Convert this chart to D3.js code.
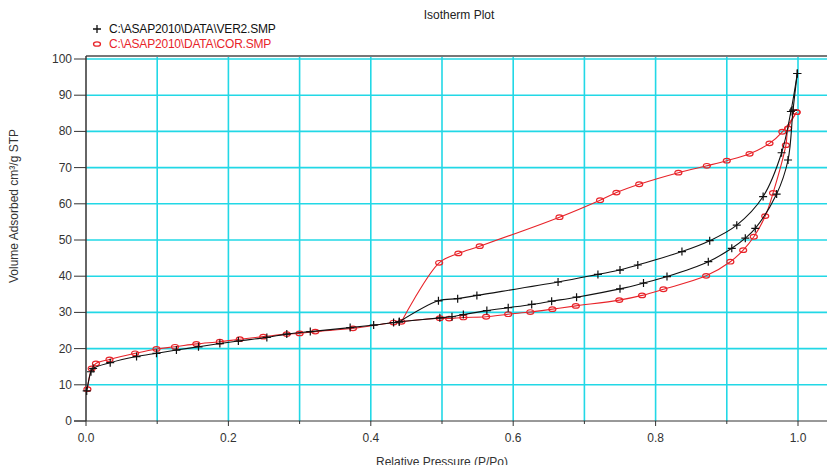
<!DOCTYPE html>
<html>
<head>
<meta charset="utf-8">
<script src="https://cdn.jsdelivr.net/npm/d3@7"></script>
<style>
  body { margin: 0; background: #fff; }
  svg text { font-family: "Liberation Sans", Arial, sans-serif; }
</style>
</head>
<body>
<div class="landing"></div>
<script>
// VER2 sample (black, +)
const ver2AdsP = [0.001, 0.007, 0.010, 0.034, 0.071, 0.099, 0.127, 0.158, 0.188, 0.214, 0.254, 0.282, 0.315, 0.371, 0.404, 0.432, 0.440, 0.497, 0.514, 0.530, 0.563, 0.593, 0.626, 0.654, 0.689, 0.750, 0.783, 0.816, 0.874, 0.907, 0.926, 0.940, 0.970, 0.986, 0.993, 0.999]
const ver2AdsV = [8.3, 13.6, 14.5, 16.1, 17.8, 18.7, 19.6, 20.5, 21.4, 22.1, 23.1, 24.0, 24.7, 25.8, 26.5, 27.2, 27.4, 28.5, 28.8, 29.4, 30.5, 31.3, 32.2, 33.1, 34.2, 36.5, 38.1, 39.9, 44.0, 47.7, 50.5, 53.2, 62.7, 72.1, 85.9, 96.0]
const ver2DesP = [0.999, 0.990, 0.977, 0.951, 0.914, 0.876, 0.837, 0.775, 0.750, 0.719, 0.663, 0.549, 0.522, 0.495, 0.440]
const ver2DesV = [96.0, 85.5, 74.1, 62.0, 54.1, 49.8, 46.8, 43.1, 41.7, 40.5, 38.4, 34.7, 33.8, 33.2, 27.4]

// COR sample (red, o)
const corAdsP = [0.002, 0.008, 0.014, 0.033, 0.069, 0.099, 0.125, 0.155, 0.188, 0.216, 0.249, 0.282, 0.300, 0.322, 0.375, 0.432, 0.497, 0.510, 0.530, 0.562, 0.593, 0.624, 0.655, 0.688, 0.749, 0.781, 0.811, 0.871, 0.905, 0.923, 0.938, 0.954, 0.965, 0.983, 0.986, 0.998]
const corAdsV = [8.8, 14.5, 15.9, 17.0, 18.7, 19.9, 20.5, 21.3, 21.9, 22.6, 23.3, 24.0, 24.2, 24.7, 25.6, 27.2, 28.4, 28.3, 28.6, 28.8, 29.5, 30.1, 30.9, 31.8, 33.4, 34.7, 36.4, 40.1, 44.0, 47.2, 50.9, 56.6, 63.0, 76.2, 80.8, 85.3]
const corDesP = [0.998, 0.978, 0.960, 0.932, 0.900, 0.872, 0.832, 0.777, 0.745, 0.722, 0.665, 0.553, 0.523, 0.496, 0.443]
const corDesV = [85.3, 79.9, 76.7, 73.8, 71.9, 70.5, 68.6, 65.4, 63.1, 61.0, 56.3, 48.3, 46.3, 43.7, 27.4]

const xTicks = [0, 0.2, 0.4, 0.6, 0.8, 1.0]
const yTicks = [0, 10, 20, 30, 40, 50, 60, 70, 80, 90, 100]
const legendNames = ['C:\\ASAP2010\\DATA\\VER2.SMP', 'C:\\ASAP2010\\DATA\\COR.SMP']

document.addEventListener('DOMContentLoaded', start)

function start () {
  const W = 827, H = 465
  const svg = d3.select('.landing').append('svg')
    .attr('width', W).attr('height', H)

  const x = d3.scaleLinear().domain([0, 1]).range([86, 798])
  const y = d3.scaleLinear().domain([0, 100]).range([421, 59])

  // grid
  const grid = svg.append('g').attr('stroke', '#22d8e6').attr('stroke-width', 1.6)
  grid.selectAll('.vg').data(d3.range(1, 12).map(i => i / 10))
    .enter().append('line')
    .attr('x1', d => x(d)).attr('x2', d => x(d))
    .attr('y1', 57).attr('y2', y(0))
  grid.selectAll('.hg').data(yTicks.slice(1))
    .enter().append('line')
    .attr('x1', x(0)).attr('x2', W)
    .attr('y1', d => y(d)).attr('y2', d => y(d))

  // top border
  svg.append('line').attr('x1', x(0)).attr('x2', W).attr('y1', 56).attr('y2', 56)
    .attr('stroke', '#777').attr('stroke-width', 2)

  // axes
  const xAxis = svg.append('g').attr('transform', `translate(0,${y(0)})`)
  xAxis.append('line').attr('x1', x(0) - 12).attr('x2', W).attr('stroke', '#333')
  xAxis.selectAll('.mt').data(d3.range(0, 11).map(i => i / 10))
    .enter().append('line')
    .attr('x1', d => x(d)).attr('x2', d => x(d))
    .attr('y1', 0).attr('y2', (d, i) => i % 2 === 0 ? 5 : 3)
    .attr('stroke', '#333')
  xAxis.selectAll('text').data(xTicks).enter().append('text')
    .attr('x', d => x(d)).attr('y', 21)
    .attr('text-anchor', 'middle').attr('font-size', 12).attr('fill', '#333')
    .text(d => d.toFixed(1))

  const yAxis = svg.append('g')
  yAxis.append('line').attr('x1', x(0)).attr('x2', x(0)).attr('y1', 56).attr('y2', y(0))
    .attr('stroke', '#333').attr('stroke-width', 1.5)
  yAxis.selectAll('.yt').data(yTicks).enter().append('line')
    .attr('x1', x(0) - 12).attr('x2', x(0))
    .attr('y1', d => y(d)).attr('y2', d => y(d))
    .attr('stroke', '#333')
  yAxis.selectAll('text').data(yTicks).enter().append('text')
    .attr('x', x(0) - 14).attr('y', d => y(d) + 4)
    .attr('text-anchor', 'end').attr('font-size', 12).attr('fill', '#333')
    .text(d => d)

  // titles
  svg.append('text').attr('x', 459).attr('y', 19).attr('text-anchor', 'middle')
    .attr('font-size', 12).attr('fill', '#222').text('Isotherm Plot')
  svg.append('text').attr('transform', `translate(18,206) rotate(-90)`)
    .attr('text-anchor', 'middle').attr('font-size', 12).attr('fill', '#333')
    .text('Volume Adsorbed cm³/g STP')
  svg.append('text').attr('x', 442).attr('y', 466).attr('text-anchor', 'middle')
    .attr('font-size', 12).attr('fill', '#333').text('Relative Pressure (P/Po)')

  const line = d3.line().curve(d3.curveCatmullRom.alpha(0.5))
    .x(d => x(d[0])).y(d => y(d[1]))
  const zip = (a, b) => a.map((v, i) => [v, b[i]])

  drawSeries(svg, zip(corAdsP, corAdsV), line, x, y, '#e8242a', 'circle')
  drawSeries(svg, zip(corDesP, corDesV), line, x, y, '#e8242a', 'circle')
  drawSeries(svg, zip(ver2AdsP, ver2AdsV), line, x, y, '#111', 'plus')
  drawSeries(svg, zip(ver2DesP, ver2DesV), line, x, y, '#111', 'plus')

  // legend
  const leg = svg.append('g')
  legendNames.forEach((name, i) => {
    const col = i === 0 ? '#111' : '#e8242a'
    const ly = 33 + i * 15
    if (i === 0) {
      leg.append('path').attr('d', `M${93},${ly - 4}h8M${97},${ly - 8}v8`)
        .attr('stroke', col).attr('stroke-width', 1.3)
    } else {
      leg.append('ellipse').attr('cx', 97).attr('cy', ly - 4).attr('rx', 3.5).attr('ry', 2.2)
        .attr('fill', 'none').attr('stroke', col).attr('stroke-width', 1.3)
    }
    leg.append('text').attr('x', 109).attr('y', ly).attr('font-size', 12)
      .attr('fill', col).attr('letter-spacing', -0.2).text(name)
  })
}

function drawSeries (svg, pts, line, x, y, color, marker) {
  const g = svg.append('g')
  g.append('path').attr('d', line(pts))
    .attr('fill', 'none').attr('stroke', color).attr('stroke-width', 1.1)
  if (marker === 'circle') {
    g.selectAll('ellipse').data(pts).enter().append('ellipse')
      .attr('cx', d => x(d[0])).attr('cy', d => y(d[1]))
      .attr('rx', 3.5).attr('ry', 2.3)
      .attr('fill', 'none').attr('stroke', color).attr('stroke-width', 1.2)
  } else {
    g.selectAll('.pm').data(pts).enter().append('path')
      .attr('d', d => `M${x(d[0]) - 4},${y(d[1])}h8M${x(d[0])},${y(d[1]) - 4}v8`)
      .attr('stroke', color).attr('stroke-width', 1.2)
  }
}
</script>
</body>
</html>
